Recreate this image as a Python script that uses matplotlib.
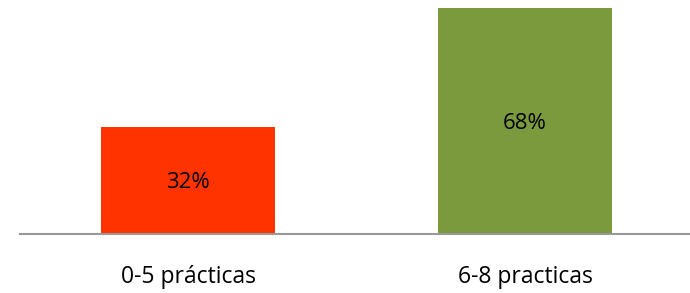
import matplotlib
matplotlib.use("Agg")
import matplotlib.pyplot as plt

categories = ["0-5 prácticas", "6-8 practicas"]
values = [32, 68]
labels = ["32%", "68%"]
colors = ["#FF3300", "#7B9A3E"]

W, H = 690, 293
fig = plt.figure(figsize=(W/100, H/100), dpi=100)
base = 233.5
ax = fig.add_axes([20/W, (H-base)/H, 670/W, base/H])
x = list(range(len(categories)))
bars = ax.bar(x, values, width=0.516, color=colors, zorder=2)
ax.set_xlim(-0.5, 1.49)
ax.set_ylim(0, 70.4)
for b, lab in zip(bars, labels):
    ax.text(b.get_x() + b.get_width()/2, b.get_height()/2, lab,
            ha="center", va="center_baseline", fontsize=16, family="Open Sans", color="#000000")
ax.set_xticks(x)
ax.set_xticklabels([])
for xi, cat in zip(x, categories):
    ax.text(xi, -(283.3 - base)/base, cat, transform=ax.get_xaxis_transform(),
            ha="center", va="baseline", fontsize=16.5, family="Open Sans", color="#000000")
ax.tick_params(axis="x", length=0)
ax.set_yticks([])
for s in ["top", "right", "left"]:
    ax.spines[s].set_visible(False)
ax.spines["bottom"].set_color("#999999")
ax.spines["bottom"].set_linewidth(1.5)
fig.savefig("out.png", dpi=100)
